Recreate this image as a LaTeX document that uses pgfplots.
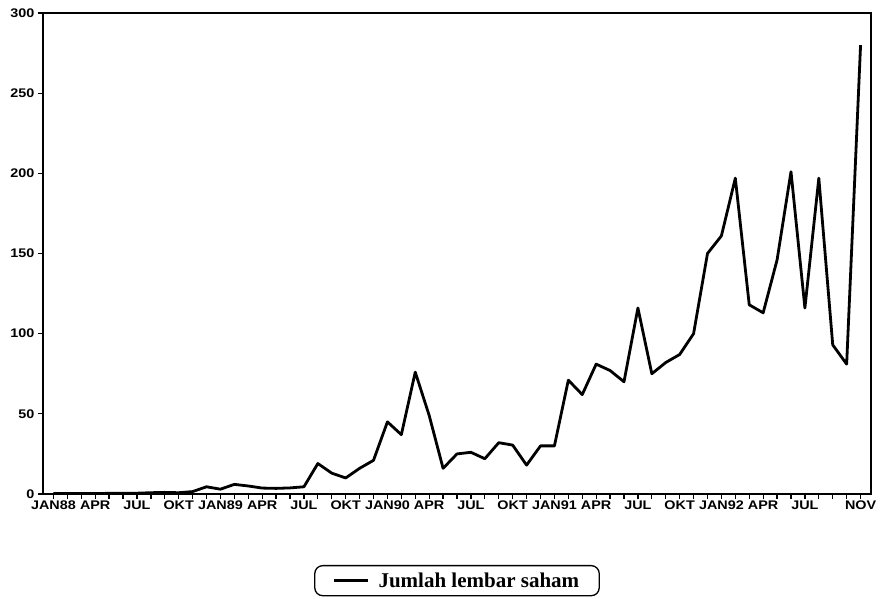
\documentclass[border=0pt]{standalone}
\usepackage{fontspec}
\setmainfont{Liberation Serif}
\newfontfamily\tickfont[FakeStretch=1.15]{Liberation Sans}
\usepackage{pgfplots}
\pgfplotsset{compat=1.18}
\begin{document}
\begin{tikzpicture}[x=1pt,y=1pt]
\useasboundingbox (0,0) rectangle (881,599);
\begin{axis}[
 at={(43pt,105pt)}, anchor=south west,
 scale only axis, width=828pt, height=481pt,
 xmin=-0.75, xmax=58.75, ymin=0, ymax=300,
 xtick={0,3,6,9,12,15,18,21,24,27,30,33,36,39,42,45,48,51,54,58},
 xticklabels={JAN88,APR,JUL,OKT,JAN89,APR,JUL,OKT,JAN90,APR,JUL,OKT,JAN91,APR,JUL,OKT,JAN92,APR,JUL,NOV},
 minor xtick={0,1,...,58},
 ytick={0,50,100,150,200,250,300},
 tick align=outside, xtick pos=bottom, ytick pos=left,
 major tick length=5pt, minor tick length=5pt,
 tick style={black, line width=1.3pt},
 axis line style={line width=1.8pt},
 /pgf/number format/assume math mode=true,
 ticklabel style={font=\tickfont\bfseries\fontsize{12.5}{14}\selectfont},
 xticklabel style={inner sep=1pt, yshift=-1pt},
 legend style={at={(0.5,-0.1476)}, anchor=north, draw=black, line width=1.3pt,
   rounded corners=8pt, font=\upshape\bfseries\fontsize{21}{23}\selectfont,
   inner xsep=18pt, inner ysep=5pt},
 legend image code/.code={\draw[#1] (0pt,0pt) -- (34pt,0pt);},
]
\addplot[black, line width=2.8pt, line join=round] coordinates {
(0,0.3)(1,0.3)(2,0.3)(3,0.3)(4,0.4)(5,0.4)(6,0.5)(7,0.8)(8,1)(9,0.8)
(10,1.5)(11,4.5)(12,3)(13,6)(14,5)(15,3.7)(16,3.5)(17,3.8)(18,4.5)(19,19)
(20,13)(21,10)(22,16)(23,21)(24,45)(25,37)(26,76)(27,49)(28,16)(29,25)
(30,26)(31,22)(32,32)(33,30.5)(34,18)(35,30)(36,30)(37,71)(38,62)(39,81)
(40,77)(41,70)(42,116)(43,75)(44,82)(45,87)(46,100)(47,150)(48,161)(49,197)
(50,118)(51,113)(52,146)(53,201)(54,116)(55,197)(56,93)(57,81)(58,280)
};
\addlegendentry{\hspace{7pt}Jumlah lembar saham}
\end{axis}
\end{tikzpicture}
\end{document}
